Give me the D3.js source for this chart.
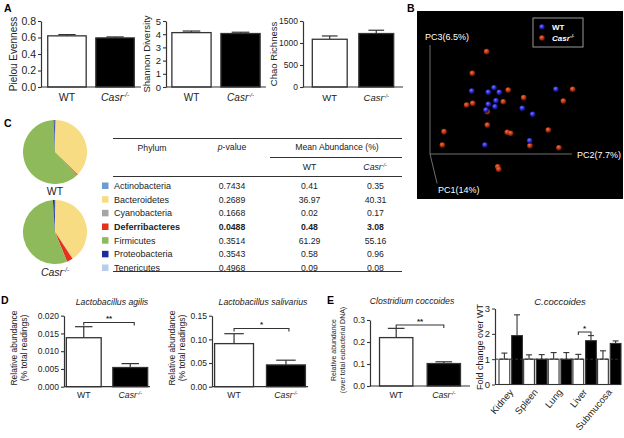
<!DOCTYPE html>
<html><head><meta charset="utf-8">
<script src="https://cdn.jsdelivr.net/npm/d3@7"></script>
<style>
html,body{margin:0;padding:0;background:#fff;}
svg{display:block;font-family:"Liberation Sans",Arial,Helvetica,sans-serif;}
</style></head><body>
<svg id="fig" width="624" height="438"></svg>
<script>
// ---------------- DATA ----------------
const groups = ["WT", "Casr"];
// Panel A
const pielouMean = [0.62, 0.595];
const pielouErr = [0.015, 0.012];
const pielouTicks = [0, 0.2, 0.4, 0.6, 0.8];
const shannonMean = [4.12, 4.05];
const shannonErr = [0.12, 0.10];
const shannonTicks = [0, 1, 2, 3, 4, 5];
const chaoMean = [1085, 1215];
const chaoErr = [75, 75];
const chaoTicks = [0, 500, 1000, 1500];
// Panel B (projected PCoA coordinates, arbitrary units along PC2 / PC3 axes)
const wtPC2 = [29.4, 41.1, 45.1, 48.8, 46.5, 41.1, 39.4, 45.8, 65.0, 72.3, 88.7, 70.2, 38.7];
const wtPC3 = [57.8, 56.6, 60.8, 56.6, 48.9, 45.6, 40.4, 43.4, 41.9, 36.4, 59.4, 12.2, 8.3];
const casrPC2 = [39.9, 29.8, 55.1, 100.5, 93.9, 66.0, 51.6, 30.1, 25.8, 40.4, 40.4, 9.9, 54.4, 56.8, 83.3, 8.7, 70.4, 90.8, 47.7, 48.4];
const casrPC3 = [93.9, 74.0, 58.7, 59.4, 48.6, 51.7, 48.0, 46.5, 45.0, 38.8, 26.6, 20.5, 19.9, 19.0, 22.0, 8.3, 7.6, 5.8, -11.7, -14.0];
// Panel C
const phyla = ["Actinobacteria", "Bacteroidetes", "Cyanobacteria", "Deferribacteres", "Firmicutes", "Proteobacteria", "Tenericutes"];
const phylaColors = ["#6d9bd4", "#f8dc84", "#a5a5a5", "#e4301c", "#8fba5c", "#1d2b9c", "#b7cdea"];
const pValues = ["0.7434", "0.2689", "0.1668", "0.0488", "0.3514", "0.3543", "0.4968"];
const wtAbund = [0.41, 36.97, 0.02, 0.48, 61.29, 0.58, 0.09];
const casrAbund = [0.35, 40.31, 0.17, 3.08, 55.16, 0.96, 0.08];
// Panel D
const agilisMean = [0.0138, 0.0054];
const agilisErr = [0.0031, 0.0011];
const agilisTicks = [0, 0.005, 0.010, 0.015, 0.020];
const salivariusMean = [0.091, 0.046];
const salivariusErr = [0.021, 0.010];
const salivariusTicks = [0, 0.05, 0.10, 0.15];
// Panel E
const clostridiumMean = [0.22, 0.102];
const clostridiumErr = [0.042, 0.008];
const clostridiumTicks = [0, 0.1, 0.2, 0.3];
const organs = ["Kidney", "Spleen", "Lung", "Liver", "Submucosa"];
const foldWT = [1, 1, 1, 1, 1];
const foldWTErr = [0.24, 0.17, 0.26, 0.19, 0.33];
const foldKO = [1.93, 1.0, 1.0, 1.73, 1.62];
const foldKOErr = [0.82, 0.18, 0.26, 0.2, 0.1];
const foldTicks = [0, 1, 2, 3];

// ---------------- DRAW ----------------
const svg = d3.select("#fig");
const INK = "#222";
const LINE = "#333";

function casr(sel) {
  sel.append("tspan").attr("font-style", "italic").text("Casr");
  sel.append("tspan").attr("font-style", "italic").attr("font-size", "0.6em").attr("dy", "-0.6em").text("-/-");
}
function panelLabel(t, x, y) {
  svg.append("text").attr("x", x).attr("y", y).attr("font-size", 10.5).attr("font-weight", "bold").attr("fill", "#000").text(t);
}

function barChart(o) {
  const g = svg.append("g");
  const y = d3.scaleLinear().domain([0, o.max]).range([o.yBottom, o.yTop]);
  const x = d3.scaleBand().domain(groups).range([o.axisX, o.rangeEnd]).paddingInner(o.pi).paddingOuter(o.po);
  const bw = x.bandwidth();
  groups.forEach((k, i) => {
    const cx = x(k) + bw / 2;
    const yt = y(o.means[i] + o.errs[i]);
    g.append("line").attr("x1", cx).attr("x2", cx).attr("y1", y(o.means[i])).attr("y2", yt).attr("stroke", LINE).attr("stroke-width", 1.2);
    g.append("line").attr("x1", cx - bw * o.cap / 2).attr("x2", cx + bw * o.cap / 2).attr("y1", yt).attr("y2", yt).attr("stroke", LINE).attr("stroke-width", 1.2);
  });
  g.selectAll("rect.bar").data(o.means).join("rect").attr("class", "bar")
    .attr("x", (d, i) => x(groups[i])).attr("y", d => y(d))
    .attr("width", bw).attr("height", d => o.yBottom - y(d))
    .attr("fill", (d, i) => i ? "#000" : "#fff").attr("stroke", LINE).attr("stroke-width", 1.3);
  const ax = g.append("g").attr("transform", `translate(${o.axisX},0)`)
    .call(d3.axisLeft(y).tickValues(o.ticks).tickFormat(o.fmt).tickSize(3).tickSizeOuter(0).tickPadding(2));
  ax.attr("font-family", null).attr("font-size", o.tickFont);
  ax.select(".domain").attr("stroke", LINE).attr("stroke-width", 1.2);
  ax.selectAll(".tick line").attr("stroke", LINE).attr("stroke-width", 1.1);
  ax.selectAll(".tick text").attr("fill", INK);
  g.append("line").attr("x1", o.axisX).attr("x2", o.rangeEnd).attr("y1", o.yBottom).attr("y2", o.yBottom).attr("stroke", LINE).attr("stroke-width", 1.2);
  g.append("text").attr("x", x("WT") + bw / 2).attr("y", o.xLabelY).attr("text-anchor", "middle").attr("font-size", o.xFont).attr("fill", INK).text("WT");
  g.append("text").attr("x", x("Casr") + bw / 2).attr("y", o.xLabelY).attr("text-anchor", "middle").attr("font-size", o.xFont).attr("fill", INK).call(casr);
  o.ylabel.forEach((t, i) => {
    g.append("text").attr("transform", `translate(${o.ylabelX[i]},${o.ylabelY}) rotate(-90)`)
      .attr("text-anchor", "middle").attr("dy", "0.35em").attr("font-size", o.labelFont).attr("fill", INK).text(t);
  });
  if (o.title) {
    g.append("text").attr("x", o.titleX).attr("y", o.titleY).attr("text-anchor", "middle").attr("font-size", o.titleFont)
      .attr("font-style", "italic").attr("fill", INK).text(o.title);
  }
  if (o.sig) {
    const x1 = x("WT") + bw / 2, x2 = x("Casr") + bw / 2 + o.sig.shift;
    g.append("path").attr("d", `M${x1},${o.sig.y + 3}V${o.sig.y}H${x2}V${o.sig.y + 3}`).attr("fill", "none").attr("stroke", LINE).attr("stroke-width", 1.1);
    g.append("text").attr("x", (x1 + x2) / 2).attr("y", o.sig.y - 1.5).attr("text-anchor", "middle").attr("font-size", 8).attr("font-weight", "bold").attr("fill", INK).text(o.sig.text);
  }
  return { x, y };
}

// ---- Panel A ----
panelLabel("A", 4, 12);
barChart({ axisX: 41, rangeEnd: 141, pi: 0.2, po: 0.14, yTop: 21, yBottom: 87, max: 0.8, ticks: pielouTicks, fmt: d3.format(".1f"),
  means: pielouMean, errs: pielouErr, cap: 0.45, tickFont: 10.5, xFont: 10.5, xLabelY: 101, labelFont: 10,
  ylabel: ["Pielou Evenness"], ylabelX: [13.5], ylabelY: 54 });
barChart({ axisX: 166, rangeEnd: 266, pi: 0.2, po: 0.12, yTop: 21, yBottom: 87, max: 5, ticks: shannonTicks, fmt: d3.format("d"),
  means: shannonMean, errs: shannonErr, cap: 0.45, tickFont: 9.5, xFont: 10, xLabelY: 101, labelFont: 9.5,
  ylabel: ["Shannon Diversity"], ylabelX: [147], ylabelY: 54 });
barChart({ axisX: 303, rangeEnd: 403, pi: 0.25, po: 0.2, yTop: 21, yBottom: 87, max: 1500, ticks: chaoTicks, fmt: d3.format("d"),
  means: chaoMean, errs: chaoErr, cap: 0.45, tickFont: 8.5, xFont: 9.5, xLabelY: 101, labelFont: 9.5,
  ylabel: ["Chao Richness"], ylabelX: [274], ylabelY: 54 });

// ---- Panel B ----
panelLabel("B", 407, 12);
{
  const defs = svg.append("defs");
  const mk = (id, c0, c1, c2) => {
    const gr = defs.append("radialGradient").attr("id", id).attr("cx", "40%").attr("cy", "35%").attr("r", "65%");
    gr.append("stop").attr("offset", "0%").attr("stop-color", c0);
    gr.append("stop").attr("offset", "55%").attr("stop-color", c1);
    gr.append("stop").attr("offset", "100%").attr("stop-color", c2);
  };
  mk("gRed", "#f0764a", "#b8340f", "#641503");
  mk("gBlue", "#7a7aff", "#2a2acc", "#0c0c60");
  svg.append("rect").attr("x", 417).attr("y", 11).attr("width", 206).attr("height", 188).attr("fill", "#000");
  const px = d3.scaleLinear().domain([0, 100]).range([430, 572]);
  const py = d3.scaleLinear().domain([0, 100]).range([154, 45]);
  const ax = svg.append("g").attr("stroke", "#8a8a8a").attr("stroke-width", 0.8).attr("fill", "none");
  ax.append("line").attr("x1", px(0)).attr("x2", px(0)).attr("y1", py(0)).attr("y2", py(100));
  ax.append("line").attr("x1", px(0)).attr("x2", px(100)).attr("y1", py(0)).attr("y2", py(0));
  ax.append("line").attr("x1", px(0)).attr("x2", px(5)).attr("y1", py(0)).attr("y2", py(-27));
  const tx = (t, x, y, a) => svg.append("text").attr("x", x).attr("y", y).attr("font-size", 9).attr("fill", "#fff").attr("text-anchor", a || "start").text(t);
  tx("PC3(6.5%)", 425, 40);
  tx("PC2(7.7%)", 577, 158);
  tx("PC1(14%)", 438, 193);
  const casrPts = casrPC2.map((v, i) => [v, casrPC3[i]]);
  const wtPts = wtPC2.map((v, i) => [v, wtPC3[i]]);
  svg.append("g").selectAll("circle").data(casrPts).join("circle")
    .attr("cx", d => px(d[0])).attr("cy", d => py(d[1])).attr("r", 2.8).attr("fill", "url(#gRed)");
  svg.append("g").selectAll("circle").data(wtPts).join("circle")
    .attr("cx", d => px(d[0])).attr("cy", d => py(d[1])).attr("r", 2.8).attr("fill", "url(#gBlue)");
  svg.append("rect").attr("x", 533).attr("y", 18).attr("width", 50).attr("height", 29).attr("fill", "none").attr("stroke", "#999").attr("stroke-width", 1);
  svg.append("circle").attr("cx", 542).attr("cy", 27).attr("r", 2.8).attr("fill", "url(#gBlue)");
  svg.append("circle").attr("cx", 542).attr("cy", 38).attr("r", 2.8).attr("fill", "url(#gRed)");
  svg.append("text").attr("x", 552).attr("y", 30).attr("font-size", 8).attr("font-weight", "bold").attr("fill", "#fff").text("WT");
  svg.append("text").attr("x", 552).attr("y", 41).attr("font-size", 8).attr("font-weight", "bold").attr("fill", "#fff").call(casr);
}

// ---- Panel C ----
panelLabel("C", 4, 127);
{
  const pie = d3.pie().sort(null).value(d => d);
  const arc = d3.arc().innerRadius(0).outerRadius(32);
  const drawPie = (vals, cx, cy) => {
    svg.append("g").attr("transform", `translate(${cx},${cy})`).selectAll("path").data(pie(vals)).join("path")
      .attr("d", arc).attr("fill", (d, i) => phylaColors[i]);
  };
  drawPie(wtAbund, 55, 152);
  drawPie(casrAbund, 55, 232);
  svg.append("text").attr("x", 55).attr("y", 195).attr("text-anchor", "middle").attr("font-size", 10.5).attr("fill", INK).text("WT");
  svg.append("text").attr("x", 55).attr("y", 276).attr("text-anchor", "middle").attr("font-size", 10.5).attr("fill", INK).call(casr);

  const ry = d3.scalePoint().domain(phyla).range([186, 268]);
  const tf = 8.7;
  const hl = (x1, x2, y, w) => svg.append("line").attr("x1", x1).attr("x2", x2).attr("y1", y).attr("y2", y).attr("stroke", LINE).attr("stroke-width", w || 1.2);
  hl(113, 402, 138.5);
  hl(270, 402, 157.5);
  hl(113, 402, 176.5);
  const tt = (x, y, a) => svg.append("text").attr("x", x).attr("y", y).attr("text-anchor", a || "middle").attr("font-size", tf).attr("fill", INK);
  tt(152, 151).text("Phylum");
  const pv = tt(232, 150);
  pv.append("tspan").attr("font-style", "italic").text("p");
  pv.append("tspan").text("-value");
  tt(337, 150).text("Mean Abundance (%)");
  tt(309.5, 170).text("WT");
  tt(375, 170).call(casr);
  phyla.forEach((p, i) => {
    const yy = ry(p);
    const bold = p === "Deferribacteres" ? "bold" : null;
    svg.append("rect").attr("x", 102).attr("y", yy - 3.5).attr("width", 6.5).attr("height", 6.5).attr("fill", phylaColors[i]);
    tt(114, yy, "start").attr("dy", "0.35em").attr("font-size", 9).attr("font-weight", bold).text(p);
    tt(232, yy).attr("dy", "0.35em").attr("font-weight", bold).text(pValues[i]);
    tt(309.5, yy).attr("dy", "0.35em").attr("font-weight", bold).text(d3.format(".2f")(wtAbund[i]));
    tt(375.5, yy).attr("dy", "0.35em").attr("font-weight", bold).text(d3.format(".2f")(casrAbund[i]));
  });
  hl(113, 402, 271.5);
}

// ---- Panel D ----
panelLabel("D", 1, 304);
barChart({ axisX: 64, rangeEnd: 150, pi: 0.25, po: 0.05, yTop: 315.7, yBottom: 386.7, max: 0.02, ticks: agilisTicks, fmt: d3.format(".3f"),
  means: agilisMean, errs: agilisErr, cap: 0.5, tickFont: 8.5, xFont: 8.7, xLabelY: 398, labelFont: 8.5,
  ylabel: ["Relative abundance", "(% total readings)"], ylabelX: [14, 24], ylabelY: 348,
  title: "Lactobacillus agilis", titleX: 112, titleY: 305, titleFont: 8.7, sig: { text: "**", y: 322.5, shift: 4 } });
barChart({ axisX: 212, rangeEnd: 308, pi: 0.25, po: 0.05, yTop: 315.7, yBottom: 386.7, max: 0.15, ticks: salivariusTicks, fmt: d3.format(".2f"),
  means: salivariusMean, errs: salivariusErr, cap: 0.5, tickFont: 8.5, xFont: 8.7, xLabelY: 398, labelFont: 8.5,
  ylabel: ["Relative abundance", "(% total readings)"], ylabelX: [172.5, 182.5], ylabelY: 348,
  title: "Lactobacillus salivarius", titleX: 263, titleY: 305, titleFont: 8.7, sig: { text: "*", y: 328.5, shift: 3 } });

// ---- Panel E ----
panelLabel("E", 327, 304);
barChart({ axisX: 370, rangeEnd: 470, pi: 0.3, po: 0.2, yTop: 320, yBottom: 386, max: 0.3, ticks: clostridiumTicks, fmt: d3.format(".1f"),
  means: clostridiumMean, errs: clostridiumErr, cap: 0.5, tickFont: 8.5, xFont: 8.7, xLabelY: 398, labelFont: 7,
  ylabel: ["Relative abundance", "(over total eubacterial DNA)"], ylabelX: [334, 343], ylabelY: 350,
  title: "Clostridium coccoides", titleX: 412, titleY: 304, titleFont: 8.7, sig: { text: "**", y: 325, shift: 0 } });
{
  const axisX = 495, end = 621, yB = 384.5, yT = 308.5;
  const y = d3.scaleLinear().domain([0, 3]).range([yB, yT]);
  const x = d3.scaleBand().domain(organs).range([499, 621]).paddingInner(0.05).paddingOuter(0);
  const xi = d3.scaleBand().domain(["WT", "KO"]).range([0, x.bandwidth()]).paddingInner(0.15);
  const bw = xi.bandwidth();
  const g = svg.append("g");
  const series = [{ k: "WT", m: foldWT, e: foldWTErr, fill: "#fff" }, { k: "KO", m: foldKO, e: foldKOErr, fill: "#000" }];
  series.forEach(s => {
    organs.forEach((o, i) => {
      const cx = x(o) + xi(s.k) + bw / 2, yt = y(s.m[i] + s.e[i]);
      g.append("line").attr("x1", cx).attr("x2", cx).attr("y1", y(s.m[i])).attr("y2", yt).attr("stroke", LINE).attr("stroke-width", 1.1);
      g.append("line").attr("x1", cx - 3).attr("x2", cx + 3).attr("y1", yt).attr("y2", yt).attr("stroke", LINE).attr("stroke-width", 1.1);
    });
    g.append("g").selectAll("rect").data(s.m).join("rect")
      .attr("x", (d, i) => x(organs[i]) + xi(s.k)).attr("y", d => y(d)).attr("width", bw).attr("height", d => yB - y(d))
      .attr("fill", s.fill).attr("stroke", LINE).attr("stroke-width", 1.1);
  });
  g.append("line").attr("x1", axisX).attr("x2", end).attr("y1", y(1)).attr("y2", y(1)).attr("stroke", LINE).attr("stroke-width", 1).attr("stroke-dasharray", "3,2");
  const ax = g.append("g").attr("transform", `translate(${axisX},0)`)
    .call(d3.axisLeft(y).tickValues(foldTicks).tickFormat(d3.format("d")).tickSize(3).tickSizeOuter(0).tickPadding(2));
  ax.attr("font-family", null).attr("font-size", 9.5);
  ax.select(".domain").attr("stroke", LINE).attr("stroke-width", 1.2);
  ax.selectAll(".tick line").attr("stroke", LINE);
  ax.selectAll(".tick text").attr("fill", INK);
  g.append("line").attr("x1", axisX).attr("x2", end).attr("y1", yB).attr("y2", yB).attr("stroke", LINE).attr("stroke-width", 1.2);
  organs.forEach(o => {
    g.append("text").attr("transform", `translate(${x(o) + x.bandwidth() / 2 + 3},${yB + 8}) rotate(-50)`)
      .attr("text-anchor", "end").attr("font-size", 9.5).attr("fill", INK).text(o);
  });
  g.append("text").attr("transform", `translate(480,347) rotate(-90)`).attr("text-anchor", "middle").attr("dy", "0.35em")
    .attr("font-size", 9).attr("fill", INK).text("Fold change over WT");
  g.append("text").attr("x", 560).attr("y", 305).attr("text-anchor", "middle").attr("font-size", 9.5).attr("font-style", "italic").attr("fill", INK).text("C.coccoides");
  const x1 = x("Liver") + xi("WT") + bw / 2, x2 = x("Liver") + xi("KO") + bw / 2;
  const sy = 332;
  g.append("path").attr("d", `M${x1},${sy + 3}V${sy}H${x2}V${sy + 3}`).attr("fill", "none").attr("stroke", LINE).attr("stroke-width", 1.1);
  g.append("text").attr("x", (x1 + x2) / 2).attr("y", sy - 1.5).attr("text-anchor", "middle").attr("font-size", 8).attr("font-weight", "bold").attr("fill", INK).text("*");
}
</script>
</body></html>
